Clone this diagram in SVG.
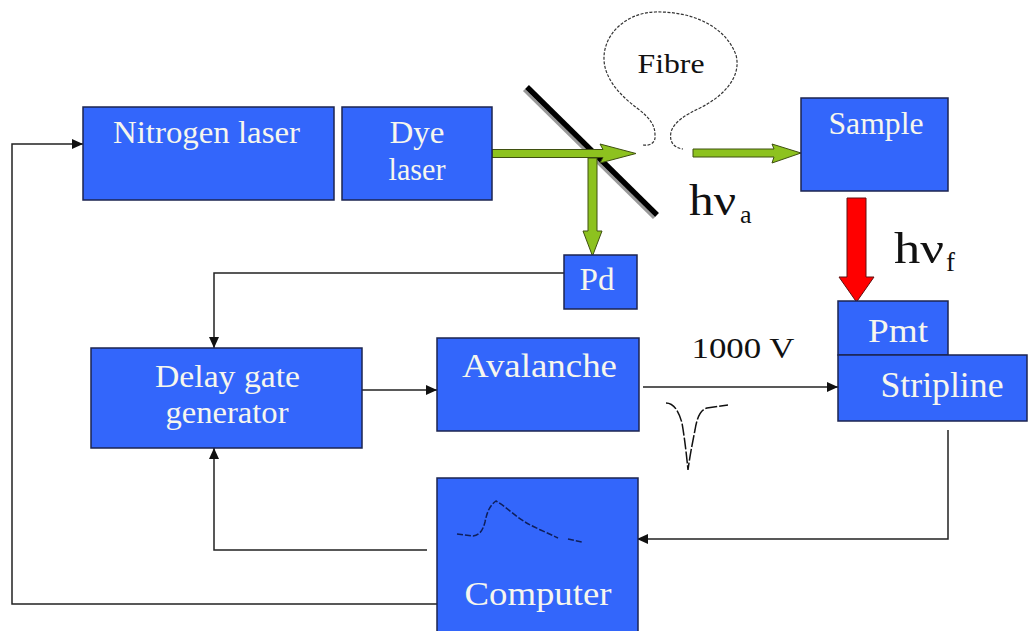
<svg xmlns="http://www.w3.org/2000/svg" width="1029" height="631" viewBox="0 0 1029 631">
<style>
.box{fill:#3366fb;stroke:#1c2550;stroke-width:1.5}
.lbl{font-family:"Liberation Serif","DejaVu Serif","Times New Roman",serif;fill:#f6f6ee;text-anchor:middle}
.blk{font-family:"Liberation Serif","DejaVu Serif","Times New Roman",serif;fill:#111;}
.conn{fill:none;stroke:#222;stroke-width:1.5}
.green{fill:#8dc21f;stroke:#3f5010;stroke-width:1}
.red{fill:#ff0000;stroke:#601010;stroke-width:1}
.fibre{fill:none;stroke:#333;stroke-width:1.2;stroke-dasharray:3 1.5}
</style>
<defs>
<marker id="arr" markerUnits="userSpaceOnUse" markerWidth="12" markerHeight="12" refX="11" refY="6" orient="auto">
<path d="M0,1 L11,6 L0,11 z" fill="#111"/>
</marker>
</defs>
<rect width="1029" height="631" fill="#ffffff"/>

<g id="connectors">
<path class="conn" d="M437,604 H12 V144 H83" marker-end="url(#arr)"/>
<path class="conn" d="M564,273 H214 V348" marker-end="url(#arr)"/>
<path class="conn" d="M362,390 H437" marker-end="url(#arr)"/>
<path class="conn" d="M427,550 H214 V448" marker-end="url(#arr)"/>
<path class="conn" d="M643,387 H838" marker-end="url(#arr)"/>
<path class="conn" d="M948,430 V539 H637" marker-end="url(#arr)"/>
</g>

<g id="mirror">
<line x1="524" y1="90" x2="654" y2="218" stroke="#999" stroke-width="3"/>
<line x1="527" y1="87" x2="657" y2="215" stroke="#000" stroke-width="5.5"/>
</g>

<g id="beams">
<polygon class="green" points="492,149.5 603,149.5 600,144 636,153.5 600,163 603,157.5 492,157.5"/>
<polygon class="green" points="588,158 597,158 597,231 602,231 592.5,256 583,231 588,231"/>
<polygon class="green" points="693,149 774,149 772,144 801,153 772,163 774,157 693,157"/>
<polygon class="red" points="847,198 866,198 866,277 874,277 856.5,302 839,277 847,277"/>
</g>

<g id="fibre">
<path class="fibre" d="M643,145 C650,146 656,143 655,135 C655,125 650,118 637,108 C622,97 605,80 604,60 C603,35 625,13 655,12 C690,11 725,25 736,55 C742,78 722,97 700,108 C685,115 674,122 671,132 C669,142 674,148 683,149"/>
<text class="blk" x="671" y="73" font-size="28" text-anchor="middle" textLength="67" lengthAdjust="spacingAndGlyphs">Fibre</text>
</g>

<g id="nitrogen-laser">
<rect class="box" x="83" y="107" width="251" height="93"/>
<text class="lbl" x="206.5" y="143" font-size="32" textLength="187" lengthAdjust="spacingAndGlyphs">Nitrogen laser</text>
</g>

<g id="dye-laser">
<rect class="box" x="342" y="107" width="150" height="93"/>
<text class="lbl" x="417" y="143" font-size="32" textLength="55" lengthAdjust="spacingAndGlyphs">Dye</text>
<text class="lbl" x="417" y="180" font-size="32" textLength="57" lengthAdjust="spacingAndGlyphs">laser</text>
</g>

<g id="sample">
<rect class="box" x="801" y="98" width="147" height="93"/>
<text class="lbl" x="876" y="134" font-size="32" textLength="95" lengthAdjust="spacingAndGlyphs">Sample</text>
</g>

<g id="pd">
<rect class="box" x="564" y="255" width="73" height="54"/>
<text class="lbl" x="597" y="290" font-size="32" textLength="35" lengthAdjust="spacingAndGlyphs">Pd</text>
</g>

<g id="pmt">
<rect class="box" x="838" y="301" width="110" height="54"/>
<text class="lbl" x="898" y="342" font-size="34" textLength="60" lengthAdjust="spacingAndGlyphs">Pmt</text>
</g>

<g id="stripline">
<rect class="box" x="838" y="355" width="189" height="66"/>
<text class="lbl" x="942" y="397" font-size="36" textLength="123" lengthAdjust="spacingAndGlyphs">Stripline</text>
</g>

<g id="delay-gate-generator">
<rect class="box" x="91" y="348" width="271" height="100"/>
<text class="lbl" x="227.5" y="387" font-size="32" textLength="145" lengthAdjust="spacingAndGlyphs">Delay  gate</text>
<text class="lbl" x="227" y="423" font-size="32" textLength="123" lengthAdjust="spacingAndGlyphs">generator</text>
</g>

<g id="avalanche">
<rect class="box" x="437" y="338" width="202" height="93"/>
<text class="lbl" x="539.5" y="377" font-size="34" textLength="155" lengthAdjust="spacingAndGlyphs">Avalanche</text>
</g>

<g id="computer">
<rect class="box" x="437" y="478" width="201" height="170"/>
<path d="M457,534 L473,536 C480,535 483,530 485,522 C487,512 490,505 496,501 C505,506 515,516 525,522 C535,528 548,533 558,538 M568,539 L582,542" fill="none" stroke="#0f1f5a" stroke-width="1.5" stroke-dasharray="6 2"/>
<text class="lbl" x="538" y="605" font-size="34" textLength="147" lengthAdjust="spacingAndGlyphs">Computer</text>
</g>

<g id="labels">
<text class="blk" x="743" y="358" font-size="30" text-anchor="middle" textLength="103" lengthAdjust="spacingAndGlyphs">1000 V</text>
<path d="M666,403 C672,403 678,408 682,423 C685,440 687,460 688,470 C690,455 693,440 695,430 C697,418 700,410 707,408 L728,405" fill="none" stroke="#111" stroke-width="1.5" stroke-dasharray="12 2"/>
<text class="blk" x="689" y="215" font-size="44" textLength="47" lengthAdjust="spacingAndGlyphs">hν</text>
<text class="blk" x="740" y="223" font-size="26">a</text>
<text class="blk" x="894" y="263" font-size="45" textLength="50" lengthAdjust="spacingAndGlyphs">hν</text>
<text class="blk" x="946" y="271" font-size="27">f</text>
</g>
</svg>
